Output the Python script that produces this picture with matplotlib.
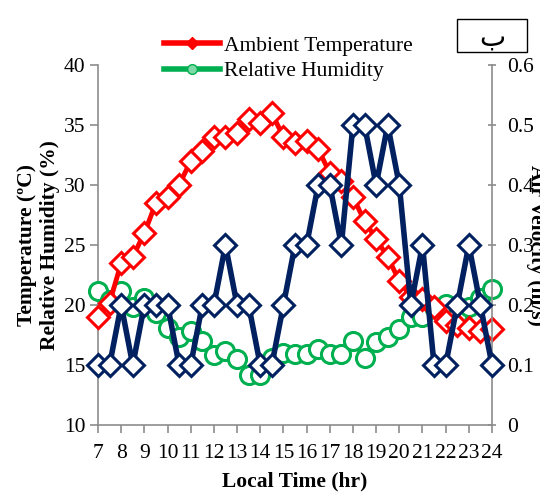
import numpy as np
import matplotlib
matplotlib.use('Agg')
from matplotlib import pyplot as plt
from matplotlib.lines import Line2D
from matplotlib.patches import Rectangle

plt.rcParams['font.family'] = ['Liberation Serif', 'DejaVu Sans']

# half-hourly readings, 7:00 to 24:00
hours = np.arange(7, 24.01, 0.5)
temperature = [19, 20.2, 23.5, 24, 26, 28.5, 29, 30, 32, 32.8, 34, 34, 34.3, 35.5, 35.2, 36,
               34, 33.5, 33.7, 33, 31, 30.3, 29, 27, 25.5, 24, 22, 20.7, 20.5, 19.8, 18.7,
               18.3, 18.1, 17.8, 18]
humidity = [21.2, 20.4, 21.2, 19.8, 20.6, 19.3, 18.1, 17.3, 17.8, 17.0, 15.8, 16.2, 15.5, 14.2,
            14.2, 15.6, 16.0, 15.9, 15.9, 16.3, 15.9, 15.9, 17.0, 15.6, 16.9, 17.3, 18.0, 19.0,
            19.0, 19.8, 20.1, 19.1, 19.8, 20.6, 21.3]
velocity = [0.1, 0.1, 0.2, 0.1, 0.2, 0.2, 0.2, 0.1, 0.1, 0.2, 0.2, 0.3, 0.2, 0.2, 0.1, 0.1,
            0.2, 0.3, 0.3, 0.4, 0.4, 0.3, 0.5, 0.5, 0.4, 0.5, 0.4, 0.2, 0.3, 0.1, 0.1, 0.2,
            0.3, 0.2, 0.1]

x_ticks = list(range(7, 25))
left_ticks = [10, 15, 20, 25, 30, 35, 40]
right_ticks = [0, 0.1, 0.2, 0.3, 0.4, 0.5, 0.6]
right_labels = ['0', '0.1', '0.2', '0.3', '0.4', '0.5', '0.6']

RED = '#FF0000'
GREEN = '#00B050'
BLUE = '#002060'
GREY = '#8C8C8C'
FS = 15.5

fig = plt.figure(figsize=(5.4, 4.93), dpi=100)
ax = fig.add_axes([98 / 540, 1 - 425 / 493, 394 / 540, 360 / 493])

ax.plot(hours, humidity, color=GREEN, lw=3.5, marker='o', ms=13, mew=2.2,
        mfc='white', mec=GREEN, clip_on=False, zorder=3)
ax.plot(hours, temperature, color=RED, lw=3.5, marker='D', ms=11, mew=2.2,
        mfc='white', mec=RED, clip_on=False, zorder=4)

ax.set_xlim(7, 24)
ax.set_ylim(10, 40)
ax.set_xticks(x_ticks)
ax.set_yticks(left_ticks)
ax.tick_params(axis='both', labelsize=FS, color=GREY, width=1.2)
ax.tick_params(axis='y', direction='out', length=6, pad=3)
ax.tick_params(axis='x', direction='out', length=6, pad=8)
for s in ['top', 'right']:
    ax.spines[s].set_visible(False)
for s in ['left', 'bottom']:
    ax.spines[s].set_color(GREY)
    ax.spines[s].set_linewidth(1.2)

ax.set_xlabel('Local Time (hr)', fontsize=FS, fontweight='bold', labelpad=6)
ax.set_ylabel('Temperature (ºC)\nRelative Humidity (%)', fontsize=FS,
              fontweight='bold', labelpad=3, linespacing=1.15)

ax2 = ax.twinx()
ax2.plot(hours, velocity, color=BLUE, lw=4, marker='D', ms=11, mew=2.2,
         mfc='white', mec=BLUE, clip_on=False, zorder=5)
ax2.set_ylim(0, 0.6)
ax2.set_yticks(right_ticks)
ax2.set_yticklabels(right_labels)
ax2.tick_params(axis='y', labelsize=FS, color=GREY, width=1.2,
                direction='inout', length=6, pad=8)
for s in ['top', 'left', 'bottom']:
    ax2.spines[s].set_visible(False)
ax2.spines['right'].set_color(GREY)
ax2.spines['right'].set_linewidth(1.2)

fig.text(536 / 540, 1 - 245 / 493, 'Air Velocity (m/s)', rotation=270,
         ha='center', va='center', fontsize=FS, fontweight='bold')

handles = [Line2D([], [], color=RED, lw=4, marker='D', ms=6, mfc=RED, mec=RED),
           Line2D([], [], color=GREEN, lw=4, marker='o', ms=7, mfc='#7fd8a7', mec=GREEN)]
fig.legend(handles, ['Ambient Temperature', 'Relative Humidity'],
           loc='upper left', bbox_to_anchor=(155 / 540, 1 - 27 / 493),
           frameon=False, fontsize=FS, handlelength=2.6, handletextpad=0.2,
           labelspacing=0.25, borderaxespad=0)

fig.patches.append(Rectangle((457 / 540, 1 - 52 / 493), 70 / 540, 33 / 493,
                             transform=fig.transFigure, fill=False,
                             edgecolor='black', lw=1))
fig.text(492 / 540, 1 - 38 / 493, 'ب', ha='center', va='center', fontsize=20,
         family=['DejaVu Sans'])

fig.savefig('out.png', dpi=100)
